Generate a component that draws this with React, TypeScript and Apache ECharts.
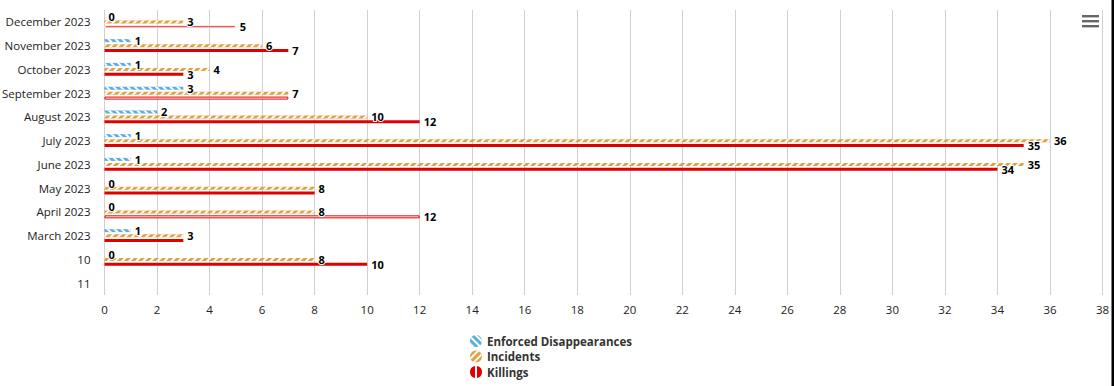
import React, { useEffect, useRef } from "react";
import * as echarts from "echarts";

const categories = [
  "December 2023",
  "November 2023",
  "October 2023",
  "September 2023",
  "August 2023",
  "July 2023",
  "June 2023",
  "May 2023",
  "April 2023",
  "March 2023",
  "10",
  "11",
];
const enforcedDisappearances = [0, 1, 1, 3, 2, 1, 1, 0, 0, 1, 0, null];
const incidents = [3, 6, 4, 7, 10, 36, 35, 8, 8, 3, 8, null];
const killings = [5, 7, 3, 7, 12, 35, 34, 8, 12, 3, 10, null];
const xTicks = { min: 0, max: 38, interval: 2 };

const BLUE = "#5aaee2";
const ORANGE = "#dea143";
const RED = "#e00000";
const FONT = "Open Sans";

const outlinedKillings = ["September 2023", "April 2023"];
const thinKillings = ["December 2023"];

const KILL_ICON =
  "path://M5,0.084 A6,6 0 0,0 5,11.916 Z M7,0.084 A6,6 0 0,1 7,11.916 Z";

export default function App() {
  const ref = useRef<HTMLDivElement>(null);
  useEffect(() => {
    if (!ref.current) return;
    const chart = echarts.init(ref.current, null, { renderer: "svg" });
    const label = (dy: number) => ({
      show: true,
      position: "right" as const,
      distance: 4,
      offset: [0, dy],
      fontFamily: FONT,
      fontSize: 11,
      fontWeight: "bold" as const,
      color: "#000",
      textBorderColor: "#fff",
      textBorderWidth: 2,
    });
    const killData = killings.map((v, i) => {
      const c = categories[i];
      if (outlinedKillings.includes(c))
        return { value: v, itemStyle: { color: "#fff", borderColor: RED, borderWidth: 1 } };
      if (thinKillings.includes(c))
        return { value: v, itemStyle: { color: RED, borderColor: "#fff", borderWidth: 1 } };
      return { value: v };
    });
    chart.setOption({
      animation: false,
      grid: {
        left: 104.5,
        right: 11.5,
        top: 10,
        bottom: 91,
        containLabel: false,
        outerBoundsMode: "none",
      },
      xAxis: {
        type: "value",
        min: xTicks.min,
        max: xTicks.max,
        interval: xTicks.interval,
        axisLine: { show: false },
        axisTick: { show: false },
        splitLine: { lineStyle: { color: "#d0d0d0", width: 1 } },
        axisLabel: { color: "#222", fontFamily: FONT, fontSize: 11.5, margin: 8 },
      },
      yAxis: {
        type: "category",
        data: categories,
        inverse: true,
        axisLine: { show: false },
        axisTick: { show: false },
        axisLabel: { color: "#222", fontFamily: FONT, fontSize: 11.5, margin: 14 },
      },
      legend: {
        orient: "vertical",
        left: 470,
        top: 335,
        height: 60,
        padding: 0,
        itemWidth: 12,
        itemHeight: 12,
        itemGap: 3.5,
        icon: "circle",
        textStyle: { fontFamily: FONT, fontSize: 11.5, color: "#333", fontWeight: "bold" },
        data: [
          { name: "Enforced Disappearances" },
          { name: "Incidents" },
          { name: "Killings", icon: KILL_ICON },
        ],
      },
      series: [
        {
          name: "Enforced Disappearances",
          type: "bar",
          data: enforcedDisappearances,
          barWidth: 3,
          barGap: "66%",
          itemStyle: {
            color: BLUE,
            decal: {
              symbol: "rect",
              symbolSize: 1,
              color: "#ffffff",
              dashArrayX: [1, 0],
              dashArrayY: [1.5, 3],
              rotation: Math.PI / 4,
            },
          },
          label: label(-1),
          labelLayout: { hideOverlap: true },
        },
        {
          name: "Incidents",
          type: "bar",
          data: incidents,
          barWidth: 3,
          barGap: "66%",
          itemStyle: {
            color: ORANGE,
            decal: {
              symbol: "rect",
              symbolSize: 1,
              color: "#ffffff",
              dashArrayX: [1, 0],
              dashArrayY: [1.5, 3],
              rotation: -Math.PI / 4,
            },
          },
          label: label(0),
          labelLayout: { hideOverlap: true },
        },
        {
          name: "Killings",
          type: "bar",
          data: killData,
          barWidth: 3,
          barGap: "66%",
          itemStyle: { color: RED },
          label: label(1.5),
          labelLayout: { hideOverlap: true },
        },
      ],
      graphic: [
        { type: "rect", shape: { x: 1082, y: 15, width: 17, height: 2.4 }, style: { fill: "#666" } },
        { type: "rect", shape: { x: 1082, y: 20, width: 17, height: 2.4 }, style: { fill: "#666" } },
        { type: "rect", shape: { x: 1082, y: 25, width: 17, height: 2.4 }, style: { fill: "#666" } },
        { type: "rect", shape: { x: 1111.5, y: 0, width: 3, height: 386 }, style: { fill: "#000" } },
      ],
    });
    return () => chart.dispose();
  }, []);
  return (
    <div
      ref={ref}
      style={{ position: "absolute", left: 0, top: 0, width: 1114, height: 386, background: "#fff" }}
    />
  );
}
